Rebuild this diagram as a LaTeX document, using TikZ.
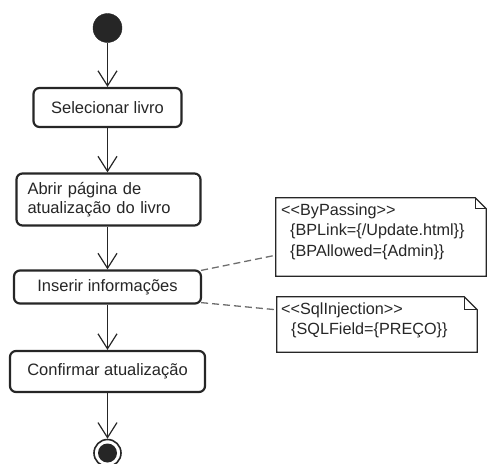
\documentclass[tikz,border=0pt]{standalone}
\usepackage{fontspec}
\setmainfont{Liberation Sans}
\usetikzlibrary{arrows.meta,calc}

\definecolor{ink}{HTML}{262626}
\definecolor{linkgray}{HTML}{6E6E6E}

\begin{document}
\begin{tikzpicture}[x=1pt,y=-1pt,
  action/.style={draw=ink, line width=2.2pt, rounded corners=6pt, fill=white,
    font=\fontsize{16.5}{19.5}\selectfont, text=ink, inner sep=0pt},
  flow/.style={draw=ink, line width=1.2pt,
    -{Straight Barb[length=15pt,width=19pt,line width=1.2pt]}},
  initial/.style={circle, fill=ink, draw=ink, minimum size=29pt, inner sep=0pt},
  final/.style={circle, draw=ink, line width=1.6pt, minimum size=27pt, inner sep=0pt,
    path picture={\fill[ink] (path picture bounding box.center) circle (9.5pt);}},
  notebox/.style={inner sep=0pt},
  noteline/.style={draw=ink, line width=1.2pt, line join=miter},
  notetext/.style={font=\fontsize{16.2}{20.5}\selectfont, text=ink, align=left,
    inner sep=0pt, anchor=north west},
  link/.style={draw=linkgray, line width=1.3pt, dash pattern=on 7pt off 4pt}
]
\useasboundingbox (0,0) rectangle (487,463);

% activity nodes
\node[initial] (init) at (107.5,28) {};
\node[action, minimum width=148pt, minimum height=39pt] (sel) at (107.5,107.5) {Selecionar livro};
\node[action, text width=162pt, align=left, inner xsep=11pt, minimum height=52pt]
  (abrir) at (108.5,199.5) {Abrir página de\\atualização do livro};
\node[action, minimum width=187pt, minimum height=33pt] (ins) at (107.5,287) {Inserir informações};
\node[action, minimum width=195pt, minimum height=41pt] (conf) at (107.5,371.5) {Confirmar atualização};
\node[final] (fin) at (107.5,453) {};

% control flow
\draw[flow] (init.south) -- (sel.north);
\draw[flow] (sel.south) -- (sel.south |- abrir.north);
\draw[flow] (sel.south |- abrir.south) -- (ins.north);
\draw[flow] (ins.south) -- (conf.north);
\draw[flow] (conf.south) -- (fin.north);

% stereotype notes (the empty groups keep << and >> from turning into guillemets)
\node[notebox, minimum width=210pt, minimum height=78pt] (note1) at (381,237) {};
\draw[noteline] (note1.north west) -- ($(note1.north east)+(-11,0)$)
  -- ($(note1.north east)+(0,11)$) -- (note1.south east) -- (note1.south west) -- cycle;
\draw[noteline] ($(note1.north east)+(-11,0)$) -- ($(note1.north east)+(-11,11)$)
  -- ($(note1.north east)+(0,11)$);
\node[notetext] (bp) at (281,203.5)
  {<{}<ByPassing>{}>\\\hspace*{9pt}\{BPLink=\{/Update.html\}\}\\\hspace*{9pt}\{BPAllowed=\{Admin\}\}};

\node[notebox, minimum width=200pt, minimum height=55pt] (note2) at (377,324.5) {};
\draw[noteline] (note2.north west) -- ($(note2.north east)+(-13,0)$)
  -- ($(note2.north east)+(0,13)$) -- (note2.south east) -- (note2.south west) -- cycle;
\draw[noteline] ($(note2.north east)+(-13,0)$) -- ($(note2.north east)+(-13,13)$)
  -- ($(note2.north east)+(0,13)$);
\node[notetext] (sql) at (281,302.5)
  {<{}<SqlInjection>{}>\\\hspace*{10pt}\{SQLField=\{PREÇO\}\}};

% anchors between action and notes
\draw[link] ($(ins.north east)+(-1,1)$) -- ($(note1.south west)+(0,-21)$);
\draw[link] ($(ins.south east)+(-1,-2)$) -- ($(note2.north west)+(0,13)$);
\end{tikzpicture}
\end{document}
